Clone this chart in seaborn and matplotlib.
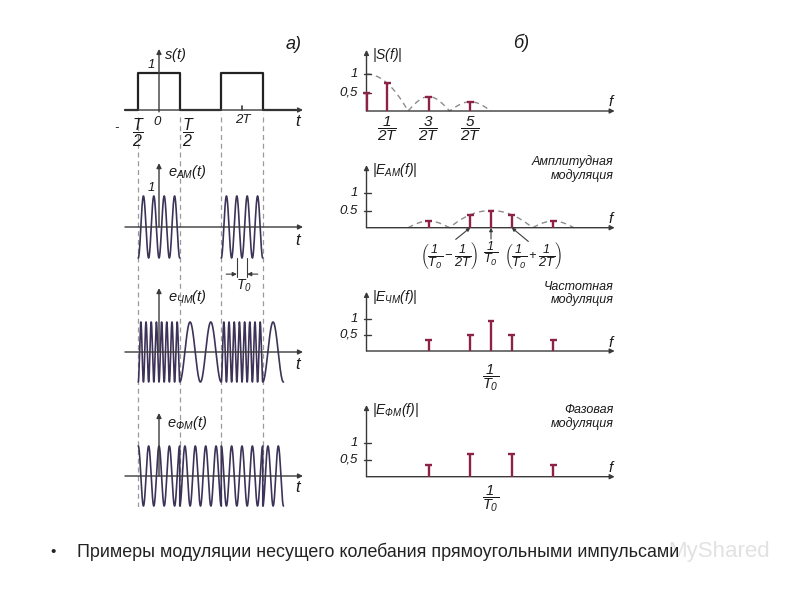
import numpy as np
import matplotlib
matplotlib.use("Agg")
import matplotlib.pyplot as plt
import seaborn as sns

# --- data (time in units of T, frequency in units of 1/T) ---
pulse_edges = [(-0.5, 0.5), (1.5, 2.5)]
carrier_cycles = 4          # carrier periods per T (T0 = T/4)
fm_cycles_high = 8          # FM: periods per T inside a pulse
fm_cycles_low = 2           # FM: periods per T between pulses
wave_end = 3.0

s_line_f = [0.0, 0.5, 1.5, 2.5]
s_line_h = [0.5, 0.76, 0.39, 0.25]
s_lobe_peaks = [1.0, 0.39, 0.25]
s_tick_labels = [r'$\dfrac{1}{2T}$', r'$\dfrac{3}{2T}$', r'$\dfrac{5}{2T}$']

f_carrier = 3.0
am_line_f = [1.5, 2.5, 3.0, 3.5, 4.5]
am_line_h = [0.2, 0.36, 0.5, 0.36, 0.2]
am_lobe_peaks = [0.5, 0.195]
fm_line_f = [1.5, 2.5, 3.0, 3.5, 4.5]
fm_line_h = [0.33, 0.49, 0.91, 0.49, 0.33]
pm_line_f = [1.5, 2.5, 3.5, 4.5]
pm_line_h = [0.35, 0.67, 0.67, 0.35]

caption = 'Примеры модуляции несущего колебания прямоугольными импульсами'

# --- style ---
sns.set_theme(style="white")
plt.rcParams['font.family'] = ['Liberation Sans', 'DejaVu Sans']
plt.rcParams['mathtext.fontset'] = 'custom'
plt.rcParams['mathtext.it'] = 'Liberation Sans:italic'
plt.rcParams['mathtext.rm'] = 'Liberation Sans:italic'
plt.rcParams['mathtext.sf'] = 'Liberation Sans:italic'

AX = '#3a3a3a'
WAVE = '#3d3358'
RED = '#8e2146'
ENV = '#8c8c8c'
GRID = '#9a9a9a'

W, H = 800, 600
fig = plt.figure(figsize=(8, 6), dpi=100)


def panel(cx, ux, xlim, cy, uy, ylim):
    left = cx + xlim[0] * ux
    right = cx + xlim[1] * ux
    top = cy - ylim[1] * uy
    bottom = cy - ylim[0] * uy
    ax = fig.add_axes([left / W, 1 - bottom / H, (right - left) / W, (bottom - top) / H])
    ax.set_xlim(xlim)
    ax.set_ylim(ylim)
    ax.axis('off')
    ax.patch.set_alpha(0)
    return ax


def arrow(ax, x0, y0, x1, y1, lw=1.0, ms=7, style='-|>', color=AX):
    ax.annotate('', xy=(x1, y1), xytext=(x0, y0),
                arrowprops=dict(arrowstyle=style, color=color, lw=lw,
                                mutation_scale=ms, shrinkA=0, shrinkB=0))


def label(ax, x, y, s, size=9.5, ha='center', va='center', **kw):
    ax.text(x, y, s, fontsize=size, ha=ha, va=va, style='italic', color='#1a1a1a', **kw)


def pulse(t):
    s = np.zeros_like(t)
    for a, b in pulse_edges:
        s[(t >= a) & (t < b)] = 1.0
    return s


def lobes(x, peaks):
    x = np.abs(x)
    y = np.full_like(x, np.nan)
    m = x <= 1
    y[m] = peaks[0] * (1 - x[m] ** 2)
    for k in range(1, len(peaks)):
        m = (x > k) & (x <= k + 1)
        y[m] = peaks[k] * np.sin(np.pi * (x[m] - k))
    return y


# ---------------- left column: time signals ----------------
TX, TU = 159, 41.5
txlim = (-1.0, 3.6)
ov = panel(TX, TU, txlim, 600, 1, (93, 487))
for a, b in pulse_edges:
    for x in (a, b):
        ov.axvline(x, color=GRID, lw=0.9, ls=(0, (4, 3)), zorder=0)

# s(t)
ax1 = panel(TX, TU, txlim, 110, 37, (-1.0, 1.9))
arrow(ax1, -0.82, 0, 3.47, 0)
arrow(ax1, 0, -0.05, 0, 1.65)
sq_t = [-0.82]
sq_v = [0.0]
for a, b in pulse_edges:
    sq_t += [a, a, b, b]
    sq_v += [0, 1, 1, 0]
sq_t.append(3.3)
sq_v.append(0.0)
sns.lineplot(x=sq_t, y=sq_v, ax=ax1, color='#222222', lw=1.6, estimator=None, sort=False)
ax1.plot([2, 2], [0, 0.12], color=AX, lw=1.2)
label(ax1, -0.19, 1.22, '1')
label(ax1, 0.4, 1.5, '$s(t)$', size=10.5)
label(ax1, -1.02, -0.5, '-')
label(ax1, -0.5, -0.6, r'$\dfrac{T}{2}$', size=11.5)
label(ax1, -0.05, -0.32, '0')
label(ax1, 0.72, -0.6, r'$\dfrac{T}{2}$', size=11.5)
label(ax1, 2.02, -0.28, '2T')
label(ax1, 3.33, -0.3, 't', size=12)
label(ax1, 3.25, 1.76, 'а)', size=13)

# AM
ax2 = panel(TX, TU, txlim, 227, 31, (-1.9, 2.3))
arrow(ax2, -0.82, 0, 3.47, 0)
arrow(ax2, 0, 0, 0, 2.06)
for a, b in pulse_edges:
    t = np.linspace(a, b, 600)
    sns.lineplot(x=t, y=-np.cos(2 * np.pi * carrier_cycles * (t - a)), ax=ax2,
                 color=WAVE, lw=1.2, estimator=None)
label(ax2, -0.19, 1.26, '1')
label(ax2, 0.68, 1.77, '$e_{АМ}(t)$', size=10.5)
label(ax2, 3.33, -0.42, 't', size=12)
t0a, t0b = 1.875, 2.125
ax2.plot([t0a, t0a], [-1.0, -1.62], color=AX, lw=0.8)
ax2.plot([t0b, t0b], [-1.0, -1.62], color=AX, lw=0.8)
arrow(ax2, 1.62, -1.52, t0a, -1.52, lw=0.8, ms=6)
arrow(ax2, 2.38, -1.52, t0b, -1.52, lw=0.8, ms=6)
label(ax2, 2.05, -1.9, '$T_{0}$', size=10)

# FM
ax3 = panel(TX, TU, txlim, 352, 30, (-1.9, 2.3))
arrow(ax3, -0.82, 0, 3.47, 0)
arrow(ax3, 0, 0, 0, 2.13)
t = np.linspace(-0.5, wave_end, 6000)
freq = np.where(pulse(t) > 0, fm_cycles_high, fm_cycles_low)
phase = 2 * np.pi * np.concatenate([[0], np.cumsum(freq[:-1] * np.diff(t))])
sns.lineplot(x=t, y=-np.cos(phase), ax=ax3, color=WAVE, lw=1.2, estimator=None)
label(ax3, 0.68, 1.83, '$e_{ЧМ}(t)$', size=10.5)
label(ax3, 3.33, -0.43, 't', size=12)

# PM
ax4 = panel(TX, TU, txlim, 476, 30, (-1.9, 2.3))
arrow(ax4, -0.82, 0, 3.47, 0)
arrow(ax4, 0, 0, 0, 2.1)
t = np.linspace(-0.5, wave_end, 6000)
pm = np.cos(2 * np.pi * carrier_cycles * (t + 0.5) + np.pi * (1 - pulse(t)))
sns.lineplot(x=t, y=pm, ax=ax4, color=WAVE, lw=1.2, estimator=None)
label(ax4, 0.68, 1.77, '$e_{ФМ}(t)$', size=10.5)
label(ax4, 3.33, -0.37, 't', size=12)

# ---------------- right column: spectra ----------------
FX, FU = 366.5, 41.5
fxlim = (-0.6, 6.4)


def spectrum_axes(ax, top, ylab, half='0,5'):
    arrow(ax, 0, 0, 5.98, 0)
    arrow(ax, 0, 0, 0, top)
    for yv, txt in ((1.0, '1'), (0.5, half)):
        ax.plot([-0.07, 0.1], [yv, yv], color=AX, lw=1.0)
        label(ax, -0.2, yv, txt, size=9.5, ha='right')
    label(ax, 0.14, top - 0.15, ylab, size=10, ha='left')
    label(ax, 5.88, 0.25, 'f', size=11)


def lines(ax, fs, hs):
    ax.vlines(fs, 0, hs, color=RED, lw=1.7, zorder=3)
    ax.hlines(hs, np.array(fs) - 0.08, np.array(fs) + 0.08, color=RED, lw=1.7, zorder=3)


ax5 = panel(FX, FU, fxlim, 111, 37, (-1.0, 1.9))
f = np.linspace(0, 3, 600)
sns.lineplot(x=f, y=lobes(f, s_lobe_peaks), ax=ax5, color=ENV, lw=1.0,
             estimator=None).lines[-1].set_linestyle((0, (4, 3)))
spectrum_axes(ax5, 1.65, '$|S(f)|$')
lines(ax5, s_line_f, s_line_h)
for fv, txt in zip(s_line_f[1:], s_tick_labels):
    label(ax5, fv, -0.48, txt, size=11)
label(ax5, 3.72, 1.84, 'б)', size=13)

ax6 = panel(FX, FU, fxlim, 227.7, 34.4, (-1.3, 2.1))
f = np.linspace(1, 5, 800)
sns.lineplot(x=f, y=lobes(f - f_carrier, am_lobe_peaks), ax=ax6, color=ENV, lw=1.0,
             estimator=None).lines[-1].set_linestyle((0, (4, 3)))
spectrum_axes(ax6, 1.82, '$|E_{АМ}(f)|$', half='0.5')
lines(ax6, am_line_f, am_line_h)
label(ax6, 5.95, 1.73, 'Амплитудная\nмодуляция', size=9, ha='right', linespacing=1.1)
arrow(ax6, 2.15, -0.34, 2.5, 0, lw=0.8, ms=5)
arrow(ax6, 3.0, -0.33, 3.0, 0, lw=0.8, ms=5)
arrow(ax6, 3.9, -0.4, 3.5, 0, lw=0.8, ms=5)
label(ax6, 2.0, -0.8, r'$\left(\dfrac{1}{T_{0}}-\dfrac{1}{2T}\right)$', size=9.2)
label(ax6, 3.0, -0.75, r'$\dfrac{1}{T_{0}}$', size=9.2)
label(ax6, 4.02, -0.8, r'$\left(\dfrac{1}{T_{0}}+\dfrac{1}{2T}\right)$', size=9.2)

ax7 = panel(FX, FU, fxlim, 351, 32.5, (-1.3, 2.2))
spectrum_axes(ax7, 1.82, '$|E_{ЧМ}(f)|$')
lines(ax7, fm_line_f, fm_line_h)
label(ax7, 5.95, 1.77, 'Частотная\nмодуляция', size=9, ha='right', linespacing=1.1)
label(ax7, 3.0, -0.82, r'$\dfrac{1}{T_{0}}$', size=10.5)

ax8 = panel(FX, FU, fxlim, 476.7, 33.5, (-1.3, 2.3))
spectrum_axes(ax8, 2.14, '$|E_{ФМ}(f)|$')
lines(ax8, pm_line_f, pm_line_h)
label(ax8, 5.95, 1.77, 'Фазовая\nмодуляция', size=9, ha='right', linespacing=1.1)
label(ax8, 3.0, -0.66, r'$\dfrac{1}{T_{0}}$', size=10.5)

# caption
fig.text(50 / W, 1 - 552 / H, '•', fontsize=11, va='center', color='#222222')
fig.text(77 / W, 1 - 552 / H, caption, fontsize=12.9, va='center', color='#222222')
fig.text(668 / W, 1 - 552 / H, 'MyShared', fontsize=16, va='center', color='#e2e2e2', zorder=0)

fig.savefig('out.png', dpi=100)
